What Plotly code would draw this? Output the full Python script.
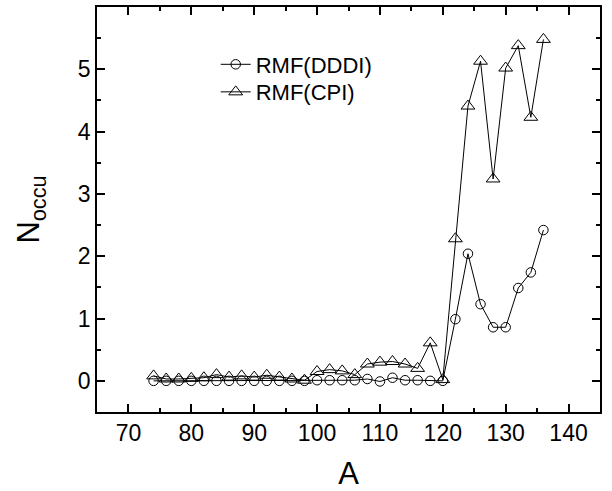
import plotly.graph_objects as go

A = [74, 76, 78, 80, 82, 84, 86, 88, 90, 92, 94, 96, 98, 100, 102, 104, 106, 108,
     110, 112, 114, 116, 118, 120, 122, 124, 126, 128, 130, 132, 134, 136]
dddi = [0.0, 0.0, 0.0, 0.0, 0.0, 0.0, 0.0, 0.0, 0.0, 0.0, 0.0, 0.0, 0.0, 0.01, 0.01, 0.01, 0.01, 0.03,
        -0.01, 0.05, 0.01, 0.01, 0.0, 0.0, 0.99, 2.04, 1.23, 0.86, 0.86, 1.49, 1.74, 2.42]
cpi = [0.08, 0.03, 0.03, 0.04, 0.05, 0.1, 0.06, 0.08, 0.06, 0.09, 0.06, 0.03, 0.01, 0.15, 0.18, 0.16, 0.1, 0.27,
       0.3, 0.31, 0.27, 0.2, 0.61, 0.02, 2.28, 4.41, 5.13, 3.24, 5.02, 5.38, 4.23, 5.48]

FONT = "Liberation Sans, Arial, sans-serif"

fig = go.Figure()
fig.add_trace(go.Scatter(x=A, y=dddi, mode="lines+markers", name="RMF(DDDI)",
                         line=dict(color="black", width=1), legend="legend",
                         marker=dict(symbol="circle-open", size=9.5, color="black", line=dict(width=1))))
fig.add_trace(go.Scatter(x=A, y=cpi, mode="lines+markers", name="RMF(CPI)",
                         line=dict(color="black", width=1), legend="legend2",
                         marker=dict(symbol="triangle-up-open", size=12, color="black", line=dict(width=1))))

axis_common = dict(showline=True, linecolor="black", linewidth=1.5, mirror="ticks",
                   ticks="inside", ticklen=8, tickwidth=1.5, tickcolor="black",
                   showgrid=False, zeroline=False, automargin=False,
                   tickfont=dict(family=FONT, size=23, color="black"))

fig.update_xaxes(range=[65, 145], dtick=10, tick0=70,
                 minor=dict(ticks="inside", ticklen=4, dtick=5, tick0=65, tickcolor="black", showgrid=False),
                 title=dict(text="A", font=dict(family=FONT, size=31, color="black"), standoff=21),
                 **axis_common)
fig.update_yaxes(range=[-0.5, 6], dtick=1, tick0=0,
                 minor=dict(ticks="inside", ticklen=4, dtick=0.5, tick0=0, tickcolor="black", showgrid=False),
                 title=dict(text="N<sub>occu</sub>", font=dict(family=FONT, size=31, color="black"), standoff=29),
                 **axis_common)

leg_common = dict(xanchor="left", yanchor="middle", bgcolor="rgba(0,0,0,0)",
                  font=dict(family=FONT, size=22, color="black"), itemsizing="trace")

fig.update_layout(
    width=612, height=491,
    margin=dict(l=97, r=12, t=7, b=79),
    paper_bgcolor="white", plot_bgcolor="white",
    showlegend=True,
    legend=dict(x=0.236, y=0.858, **leg_common),
    legend2=dict(x=0.236, y=0.790, **leg_common),
)

fig.write_html("out.html", config={"displayModeBar": False},
               post_script="document.body.style.margin='0';document.body.style.padding='0';")
